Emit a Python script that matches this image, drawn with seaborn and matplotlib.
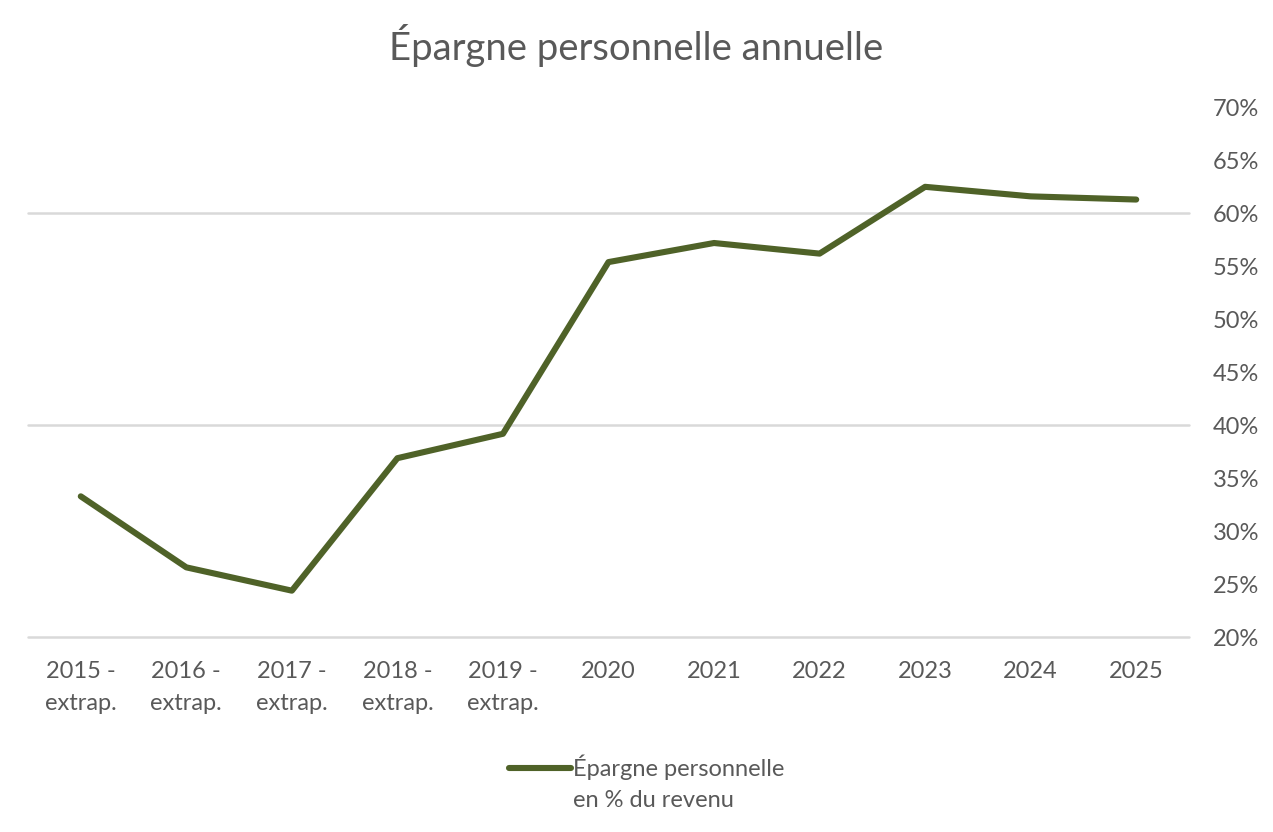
import matplotlib
matplotlib.use("Agg")
import matplotlib.pyplot as plt
import seaborn as sns
import pandas as pd
from matplotlib.ticker import MultipleLocator, FuncFormatter

# Data
years = ["2015 -\nextrap.", "2016 -\nextrap.", "2017 -\nextrap.", "2018 -\nextrap.",
         "2019 -\nextrap.", "2020", "2021", "2022", "2023", "2024", "2025"]
epargne = [33.3, 26.6, 24.4, 36.9, 39.2, 55.4, 57.2, 56.2, 62.5, 61.6, 61.3]
grid_levels = [20, 40, 60]

df = pd.DataFrame({"annee": years, "epargne": epargne})

sns.set_theme(style="white")
plt.rcParams['font.family'] = ['Lato', 'DejaVu Sans']

text_col = "#595959"
line_col = "#4F6228"

fig = plt.figure(figsize=(12.73, 8.32), dpi=100)
ax = fig.add_axes([0.022, 0.234, 0.912, 0.637])

for g in grid_levels:
    ax.axhline(g, color="#D9D9D9", lw=1.8, zorder=0, clip_on=False)

sns.lineplot(data=df, x="annee", y="epargne", ax=ax, color=line_col, lw=4.4,
             sort=False, label="Épargne personnelle\nen % du revenu")
for l in ax.lines:
    l.set_solid_capstyle("round")
    l.set_solid_joinstyle("round")

ax.set_xlim(-0.5, len(years) - 0.5)
ax.set_ylim(20, 70)
ax.yaxis.set_major_locator(MultipleLocator(5))
ax.yaxis.set_major_formatter(FuncFormatter(lambda v, p: f"{v:.0f}%"))
ax.yaxis.tick_right()
ax.set_xlabel("")
ax.set_ylabel("")
ax.tick_params(axis="both", length=0, labelsize=17, colors=text_col)
ax.tick_params(axis="x", pad=17)
ax.tick_params(axis="y", pad=17)
for t in ax.get_xticklabels():
    t.set_linespacing(1.65)
for s in ax.spines.values():
    s.set_visible(False)

ax.set_title("Épargne personnelle annuelle", fontsize=27.5, color=text_col,
             pad=34, x=0.524)

leg = ax.legend(loc="center", bbox_to_anchor=(0.533, -0.275), frameon=False,
                fontsize=17, handlelength=2.6, handletextpad=0.08, labelcolor=text_col)
for t in leg.get_texts():
    t.set_ha("left")
    t.set_linespacing(1.6)
# handle sits level with the first line of the label, as in the original
for hl in leg.get_lines():
    hl.set_ydata([y + 11 for y in hl.get_ydata()])
    hl.set_solid_capstyle("round")

fig.savefig("out.png", dpi=100)
